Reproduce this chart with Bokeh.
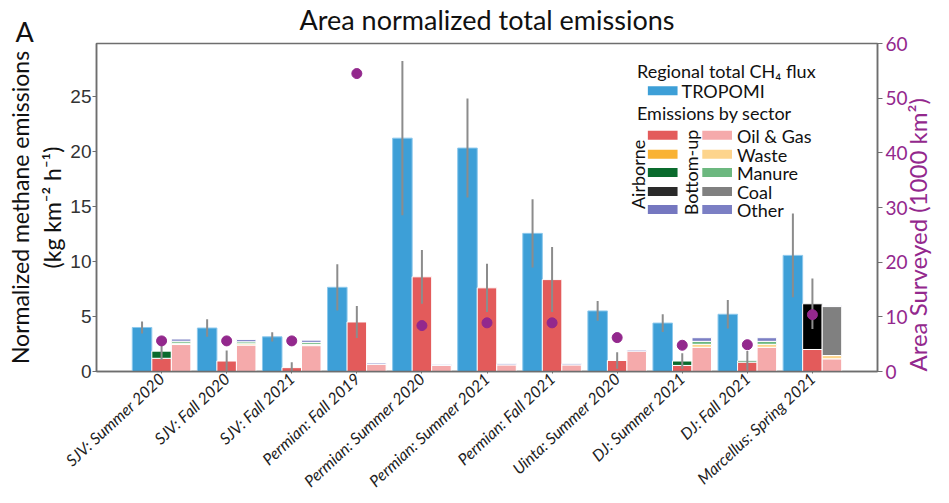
import math
import numpy as np
from bokeh.plotting import figure
from bokeh.models import Range1d, LinearAxis, FixedTicker, Label, Title
from bokeh.embed import file_html
from bokeh.resources import INLINE

# ---------------- data ----------------
categories = ["SJV: Summer 2020", "SJV: Fall 2020", "SJV: Fall 2021", "Permian: Fall 2019",
              "Permian: Summer 2020", "Permian: Summer 2021", "Permian: Fall 2021",
              "Uinta: Summer 2020", "DJ: Summer 2021", "DJ: Fall 2021", "Marcellus: Spring 2021"]

tropomi = [4.0, 3.95, 3.15, 7.65, 21.2, 20.3, 12.55, 5.5, 4.4, 5.2, 10.55]
tropomi_err = [0.55, 0.8, 0.42, 2.1, 7.0, 4.5, 3.1, 0.9, 0.8, 1.3, 3.8]

air_oil = [1.2, 0.95, 0.35, 4.5, 8.6, 7.6, 8.35, 1.0, 0.55, 0.85, 2.0]
air_waste = [0, 0, 0, 0, 0, 0, 0, 0, 0, 0, 0]
air_manure = [0.65, 0, 0, 0, 0, 0, 0, 0, 0.4, 0.12, 0]
air_coal = [0, 0, 0, 0, 0, 0, 0, 0, 0, 0, 4.15]
air_other = [0, 0, 0, 0, 0, 0, 0, 0, 0, 0, 0]
air_err = [0.8, 0.95, 0.5, 1.45, 2.45, 2.2, 2.95, 0.75, 0.7, 0.9, 2.3]

bu_oil = [2.45, 2.4, 2.35, 0.65, 0.55, 0.6, 0.6, 1.85, 2.2, 2.2, 1.15]
bu_waste = [0.12, 0.12, 0.12, 0, 0, 0, 0, 0, 0.27, 0.27, 0.3]
bu_manure = [0.18, 0.18, 0.18, 0, 0, 0, 0, 0, 0.27, 0.27, 0]
bu_coal = [0, 0, 0, 0, 0, 0, 0, 0, 0, 0, 4.45]
bu_other = [0.2, 0.2, 0.2, 0.12, 0.1, 0.1, 0.1, 0.1, 0.33, 0.33, 0.1]

area_surveyed = [5.6, 5.6, 5.6, 54.5, 8.4, 8.9, 8.9, 6.2, 4.8, 4.9, 10.4]

left_ticks = [0, 5, 10, 15, 20, 25]
right_ticks = [0, 10, 20, 30, 40, 50, 60]
sector_names = ["Oil & Gas", "Waste", "Manure", "Coal", "Other"]

# ---------------- style ----------------
C_TROPOMI = "#3D9FD7"
AIR_COLORS = ["#E35B5B", "#F9B233", "#0A6B2D", "#000000", "#7577C0"]
AIR_LEG_COLORS = ["#E35B5B", "#F9B233", "#0A6B2D", "#2A2A2A", "#7577C0"]
BU_COLORS = ["#F5AAAB", "#FDD48C", "#6CB87F", "#808080", "#7B7FC4"]
PURPLE = "#93288D"
ERR = "#8C8C8C"
FONT = "Lato"
AX = "#6E6E6E"

n = len(categories)
idx = np.arange(n, dtype=float)
W = 0.3

p = figure(width=949, height=503, x_range=Range1d(-1, 11), y_range=Range1d(0, 29.8),
           output_backend="svg", toolbar_location=None,
           min_border_left=96, min_border_right=64, min_border_top=43, min_border_bottom=132)
p.extra_y_ranges = {"area": Range1d(0, 60)}
p.xgrid.visible = False
p.ygrid.visible = False
p.outline_line_color = AX
p.outline_line_width = 1.5
p.background_fill_color = "white"
p.border_fill_color = "white"

# title (outer) and panel letter (inner), sharing the top band
p.title.text = "Area normalized total emissions"
p.title.align = "center"
p.title.offset = -17
p.title.standoff = -30
p.title.text_font = FONT
p.title.text_font_style = "normal"
p.title.text_font_size = "27px"
p.title.text_color = "#111111"

p.add_layout(Title(text="A", align="left", offset=-81, standoff=-12, vertical_align="top",
                   text_font=FONT, text_font_style="normal", text_font_size="27px",
                   text_color="#111111"), "above")

# TROPOMI bars
p.vbar(x=idx - W, top=tropomi, width=W, fill_color=C_TROPOMI, line_color="#8CC8EC", line_width=1)

def stack(xpos, series, colors):
    bottom = np.zeros(n)
    for vals, col in zip(series, colors):
        vals = np.array(vals, dtype=float)
        m = vals > 0
        if m.any():
            p.vbar(x=xpos[m], bottom=bottom[m], top=(bottom + vals)[m], width=W,
                   fill_color=col, line_color="white", line_width=1)
        bottom = bottom + vals
    return bottom

air_total = stack(idx, [air_oil, air_waste, air_manure, air_coal, air_other], AIR_COLORS)
bu_total = stack(idx + W, [bu_oil, bu_waste, bu_manure, bu_coal, bu_other], BU_COLORS)

# error bars
t = np.array(tropomi); te = np.array(tropomi_err)
p.segment(x0=idx - W, x1=idx - W, y0=t - te, y1=t + te, line_color=ERR, line_width=2)
ae = np.array(air_err)
p.segment(x0=idx, x1=idx, y0=np.maximum(air_total - ae, 0), y1=air_total + ae, line_color=ERR, line_width=2)

# area surveyed dots
p.scatter(x=idx, y=area_surveyed, y_range_name="area", size=10, fill_color=PURPLE, line_color=PURPLE)

# axes
xa = p.xaxis[0]
xa.ticker = FixedTicker(ticks=list(range(n)))
xa.major_label_overrides = {i: c for i, c in enumerate(categories)}
xa.major_label_orientation = 0.75
xa.major_label_text_font = FONT
xa.major_label_text_font_style = "italic"
xa.major_label_text_font_size = "16px"
xa.major_label_text_color = "#222222"
xa.axis_line_color = AX
xa.axis_line_width = 1.5
xa.major_tick_line_color = AX
xa.major_tick_out = 2
xa.major_tick_in = 0
xa.minor_tick_line_color = None
xa.major_label_standoff = 2

ya = p.yaxis[0]
ya.ticker = FixedTicker(ticks=left_ticks)
ya.major_label_text_font = "Liberation Sans"
ya.major_label_text_font_size = "19px"
ya.major_label_text_color = "#333333"
ya.axis_line_color = AX
ya.axis_line_width = 1.5
ya.major_tick_line_color = AX
ya.major_tick_out = 4
ya.major_tick_in = 0
ya.minor_tick_line_color = None
ya.major_label_standoff = 1
ya.axis_label = "(kg km\u207b\u00b2 h\u207b\u00b9)"
ya.axis_label_text_font = FONT
ya.axis_label_text_font_style = "normal"
ya.axis_label_text_font_size = "23px"
ya.axis_label_text_color = "#111111"
ya.axis_label_standoff = 1

p.add_layout(Title(text="Normalized methane emissions", align="center", offset=-8, text_font=FONT,
                   text_font_style="normal", text_font_size="23px", text_color="#111111",
                   standoff=4), "left")

ra = LinearAxis(y_range_name="area", ticker=FixedTicker(ticks=right_ticks))
ra.major_label_text_font = FONT
ra.major_label_text_font_size = "19px"
ra.major_label_text_color = PURPLE
ra.major_label_standoff = 3
ra.axis_line_color = AX
ra.axis_line_width = 1.5
ra.major_tick_line_color = AX
ra.major_tick_out = 5
ra.major_tick_in = 0
ra.minor_tick_line_color = None
ra.axis_label = "Area Surveyed (1000 km\u00b2)"
ra.axis_label_text_font = FONT
ra.axis_label_text_font_style = "normal"
ra.axis_label_text_font_size = "24px"
ra.axis_label_text_color = PURPLE
ra.axis_label_standoff = 7
_props = ra.properties()
if "axis_label_orientation" in _props:
    ra.axis_label_orientation = math.pi / 2
if "axis_label_align" in _props:
    _ap = ra.lookup("axis_label_align").property
    for _cand in ("start", "left"):
        if _ap.is_valid(_cand):
            ra.axis_label_align = _cand
            break
p.add_layout(ra, "right")

# legend (drawn inside the frame)
def lab(**kw):
    base = dict(text_font=FONT, text_color="#111111")
    base.update(kw)
    p.add_layout(Label(**base))

def px_x(px):
    return -1 + (px - 96) / 65.75

def px_y(py):
    return (371 - py) / 11.0

FS = "18px"
sw_w = 30 / 65.75
sw_h = 9 / 11.0
lab(x=px_x(642), y=px_y(71), text="Regional total CH\u2084 flux", text_font_size=FS,
    text_align="left", text_baseline="middle")
p.rect(x=[px_x(668)], y=[px_y(90.5)], width=sw_w, height=sw_h, fill_color=C_TROPOMI, line_color=None)
lab(x=px_x(687), y=px_y(91), text="TROPOMI", text_font_size=FS, text_align="left", text_baseline="middle")
lab(x=px_x(642), y=px_y(113), text="Emissions by sector", text_font_size=FS,
    text_align="left", text_baseline="middle")
rows_py = [135, 154, 172, 191, 209]
p.rect(x=[px_x(668)] * 5, y=[px_y(r) for r in rows_py], width=sw_w, height=sw_h,
       fill_color=AIR_LEG_COLORS, line_color=None)
p.rect(x=[px_x(723)] * 5, y=[px_y(r) for r in rows_py], width=sw_w, height=sw_h,
       fill_color=BU_COLORS, line_color=None)
for r, name in zip(rows_py, sector_names):
    lab(x=px_x(743), y=px_y(r + 1), text=name, text_font_size=FS, text_align="left", text_baseline="middle")
lab(x=px_x(643), y=px_y(174), text="Airborne", angle=math.pi / 2, text_font_size=FS,
    text_align="center", text_baseline="middle")
lab(x=px_x(697), y=px_y(172), text="Bottom-up", angle=math.pi / 2, text_font_size=FS,
    text_align="center", text_baseline="middle")

open("out.html", "w").write(file_html(p, INLINE))
